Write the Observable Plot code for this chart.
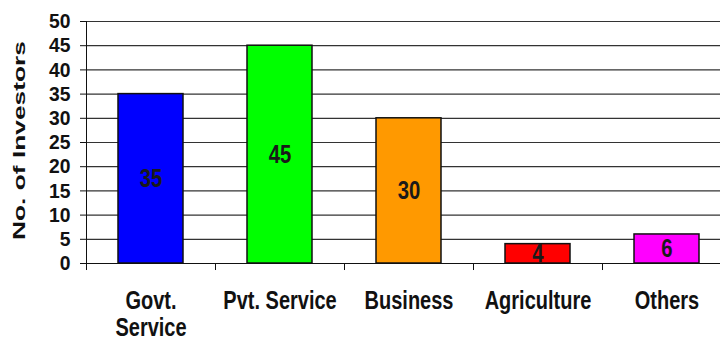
<!DOCTYPE html>
<html>
<head>
<meta charset="utf-8">
<script src="https://cdn.jsdelivr.net/npm/d3@7"></script>
<script src="https://cdn.jsdelivr.net/npm/@observablehq/plot@0.6"></script>
<style>
  html, body { margin: 0; padding: 0; background: #fff; }
  #chart svg { display: block; }
</style>
</head>
<body>
<div id="chart"></div>
<script>
const categories = ["Govt. Service", "Pvt. Service", "Business", "Agriculture", "Others"];
const xTickLabels = ["Govt.\nService", "Pvt. Service", "Business", "Agriculture", "Others"];
const investors = [35, 45, 30, 4, 6];
const barColors = ["#0000ff", "#00ff00", "#ff9900", "#ff0000", "#ff00ff"];
const yTicks = [0, 5, 10, 15, 20, 25, 30, 35, 40, 45, 50];
const yTitle = "No. of Investors";

const data = categories.map((c, i) => ({category: c, value: investors[i], color: barColors[i]}));
const FONT = "'Liberation Sans', Arial, sans-serif";

const chart = Plot.plot({
  width: 720,
  height: 341,
  marginLeft: 86,
  marginRight: 0,
  marginTop: 21,
  marginBottom: 78,
  style: {fontFamily: FONT, background: "#fff", color: "#111", overflow: "hidden"},
  x: {domain: categories, range: [86, 731], paddingInner: 0.5, paddingOuter: 0.25, label: null},
  y: {domain: [0, 50], label: null},
  marks: [
    Plot.gridY(yTicks, {stroke: "#333", strokeOpacity: 1, strokeWidth: 1.2}),
    Plot.ruleY([0], {stroke: "#111", strokeWidth: 1.2}),
    Plot.ruleX([categories[0]], {dx: -64.5, y1: 0, y2: 50, stroke: "#111"}),
    Plot.ruleX(categories, {x: d => d, dx: -64.5, y1: 0, y2: -1.45, stroke: "#111"}),
    Plot.barY(data, {x: "category", y: "value", fill: "color", stroke: "#111", strokeWidth: 1.5}),
    Plot.text(data, {x: "category", y: d => d.value / 2, text: d => String(d.value),
      fontSize: 26, fontWeight: "bold", fill: "#1a1a1a", className: "vlabel"}),
    Plot.axisY(yTicks, {tickSize: 6, tickPadding: 10, fontSize: 21, fontWeight: "bold",
      label: null, stroke: "#111", className: "ylab"}),
    Plot.axisX({tickSize: 0, tickPadding: 27, fontSize: 25, fontWeight: "bold", lineHeight: 1.07,
      label: null, tickFormat: d => xTickLabels[categories.indexOf(d)], className: "xlab"}),
    Plot.text([yTitle], {frameAnchor: "left", textAnchor: "middle", lineAnchor: "middle",
      dx: -67, dy: -2, rotate: -90,
      fontSize: 17, fontWeight: "bold", className: "ytitle"})
  ]
});

// horizontally scale glyphs (narrow / stretched lettering of the original)
function scaleText(sel, sx) {
  d3.select(chart).selectAll(sel).each(function() {
    const t = this.getAttribute("transform") || "";
    this.setAttribute("transform", `${t} scale(${sx},1)`);
  });
}
scaleText(".vlabel text", 0.78);
scaleText(".ylab text", 0.92);
scaleText(".xlab text", 0.8);
scaleText(".ytitle text", 1.55);

document.getElementById("chart").appendChild(chart);
</script>
</body>
</html>
